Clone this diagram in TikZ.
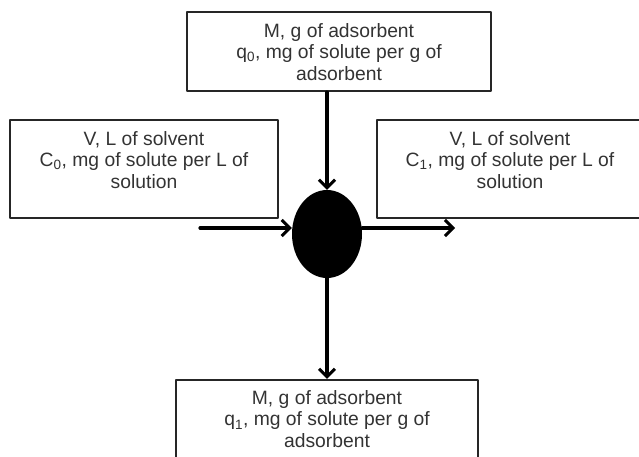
\documentclass[tikz,border=0pt]{standalone}
\usepackage{fontspec}
\setmainfont{Liberation Sans}
\usetikzlibrary{arrows.meta, shapes.geometric}
\begin{document}
\begin{tikzpicture}[x=1pt, y=-1pt, line cap=round, line join=round,
    box/.style={draw=black!85, line width=2.2pt, rectangle, inner sep=0pt},
    txt/.style={anchor=north, align=center, inner sep=0pt, text=black!80, font=\fontsize{19.3}{21.8}\selectfont},
    flow/.style={line width=3.2pt, -{Straight Barb[length=8pt, width=16pt, line width=3pt]}}]

    \useasboundingbox (0,0) rectangle (639,457);

    % boxes
    \node[box, minimum width=304pt, minimum height=79pt] (top) at (339,51.5) {};
    \node[box, minimum width=268pt, minimum height=98pt] (left) at (144,169) {};
    \node[box, minimum width=266pt, minimum height=98pt] (right) at (510,169) {};
    \node[box, minimum width=302pt, minimum height=90pt] (bottom) at (327,425) {};

    % texts
    \node[txt] (toptxt) at ([yshift=-12pt]top.north) {M, g of adsorbent\\q\textsubscript{0}, mg of solute per g of\\adsorbent};
    \node[txt] (lefttxt) at ([yshift=-12pt]left.north) {V, L of solvent\\C\textsubscript{0}, mg of solute per L of\\solution};
    \node[txt] (righttxt) at ([yshift=-12pt]right.north) {V, L of solvent\\C\textsubscript{1}, mg of solute per L of\\solution};
    \node[txt] (bottomtxt) at ([yshift=-11pt]bottom.north) {M, g of adsorbent\\q\textsubscript{1}, mg of solute per g of\\adsorbent};

    % mixing point
    \node[ellipse, fill=black, minimum width=70pt, minimum height=88pt, inner sep=0pt] (blob) at (327,234) {};

    \coordinate (feed) at (200,228);
    \coordinate (exit) at (455,228);

    \draw[flow] (top.south -| blob) -- (blob.north);
    \draw[flow] (feed) -- (feed -| blob.west);
    \draw[flow] (exit -| blob.east) -- (exit);
    \draw[flow] (blob.south) -- (bottom.north -| blob);

\end{tikzpicture}
\end{document}
